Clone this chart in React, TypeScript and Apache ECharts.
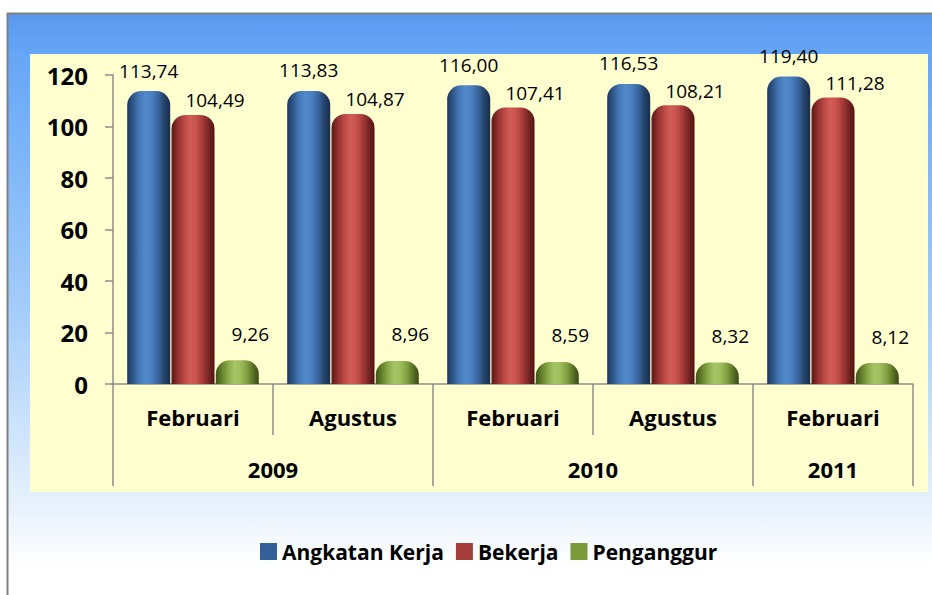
import React, { useEffect, useRef } from "react";
import * as echarts from "echarts";

const categories = ["Februari", "Agustus", "Februari", "Agustus", "Februari"];
const years = ["2009", "2010", "2011"];
const yearSpans = [2, 2, 1];
const seriesNames = ["Angkatan Kerja", "Bekerja", "Penganggur"];
const angkatanKerja = [113.74, 113.83, 116.0, 116.53, 119.4];
const bekerja = [104.49, 104.87, 107.41, 108.21, 111.28];
const penganggur = [9.26, 8.96, 8.59, 8.32, 8.12];
const yMin = 0;
const yMax = 120;
const yInterval = 20;

const FONT = '"Open Sans", "Noto Sans", sans-serif';
const GRAY = "#8c8c8c";

const yearBounds: number[] = [0];
yearSpans.forEach((s, i) => yearBounds.push(yearBounds[i] + s));
const yearCenters = yearSpans.map((s, i) => yearBounds[i] + s / 2);

const grad = (stops: string[]) =>
  new echarts.graphic.LinearGradient(
    0,
    0,
    1,
    0,
    stops.map((c, i) => ({ offset: i / (stops.length - 1), color: c }))
  );

const barColors = [
  grad(["#1c3658", "#30598e", "#4579b8", "#5289cc", "#4a7fbf", "#3a679f", "#26446c", "#172c48"]),
  grad(["#5c1716", "#8e302e", "#b84744", "#d25c58", "#c8524e", "#a83c39", "#7a2624", "#4e1312"]),
  grad(["#3f5218", "#66822c", "#8aa94a", "#a6c566", "#9ebd5c", "#84a244", "#5c7626", "#394a14"]),
];
const legendColors = ["#34609a", "#a63e3b", "#7b9b3b"];
const labelOffsets = [
  [0, 0],
  [22, 0],
  [13, 0],
];
const labelDistances = [11, 5, 17];

const fmt = (v: number) => v.toFixed(2).replace(".", ",");

export default function App() {
  const ref = useRef<HTMLDivElement>(null);
  useEffect(() => {
    if (!ref.current) return;
    const chart = echarts.init(ref.current, undefined, { renderer: "svg" });
    const data = [angkatanKerja, bekerja, penganggur];
    const option: any = {
      animation: false,
      textStyle: { fontFamily: FONT },
      graphic: [
        {
          type: "rect",
          z: -10,
          silent: true,
          shape: { x: 8, y: 14, width: 924, height: 581 },
          style: {
            fill: {
              type: "linear",
              x: 0,
              y: 0,
              x2: 0,
              y2: 1,
              colorStops: [
                { offset: 0, color: "#5a98ee" },
                { offset: 0.07, color: "#66a6f6" },
                { offset: 0.5, color: "#a2ccf9" },
                { offset: 0.83, color: "#e4f0fc" },
                { offset: 0.95, color: "#ffffff" },
                { offset: 1, color: "#ffffff" },
              ],
            },
          },
        },
        {
          type: "rect",
          z: -9,
          silent: true,
          shape: { x: 30, y: 54, width: 898, height: 438 },
          style: { fill: "#ffffd0" },
        },
        {
          type: "line",
          z: -8,
          silent: true,
          shape: { x1: 7, y1: 13.5, x2: 932, y2: 13.5 },
          style: { stroke: "#808080", lineWidth: 2 },
        },
        {
          type: "line",
          z: -8,
          silent: true,
          shape: { x1: 7.5, y1: 13, x2: 7.5, y2: 595 },
          style: { stroke: "#808080", lineWidth: 2 },
        },
      ],
      grid: { left: 113, right: 19, top: 75, bottom: 211 },
      legend: {
        left: 255,
        top: 536,
        icon: "rect",
        itemWidth: 17,
        itemHeight: 17,
        itemGap: 12,
        textStyle: { fontFamily: FONT, fontWeight: "bold", fontSize: 21, color: "#000" },
        data: seriesNames.map((n, i) => ({ name: n, itemStyle: { color: legendColors[i] } })),
      },
      xAxis: [
        {
          type: "category",
          data: categories,
          position: "bottom",
          axisLine: { show: true, lineStyle: { color: GRAY, width: 1.5 } },
          axisTick: { show: true, interval: 0, length: 51, lineStyle: { color: GRAY, width: 1.5 } },
          axisLabel: {
            interval: 0,
            margin: 22,
            fontFamily: FONT,
            fontWeight: "bold",
            fontSize: 22,
            color: "#000",
          },
          splitLine: { show: false },
        },
        {
          type: "value",
          min: 0,
          max: yearBounds[yearBounds.length - 1],
          position: "bottom",
          offset: 51,
          axisLine: { show: false },
          axisTick: {
            show: true,
            customValues: yearBounds,
            length: 51,
            lineStyle: { color: GRAY, width: 1.5 },
          },
          axisLabel: {
            customValues: yearCenters,
            margin: 23,
            fontFamily: FONT,
            fontWeight: "bold",
            fontSize: 22,
            color: "#000",
            formatter: (v: number) => {
              const idx = yearCenters.findIndex((c) => Math.abs(c - v) < 1e-6);
              return idx >= 0 ? years[idx] : "";
            },
          },
          splitLine: { show: false },
        },
      ],
      yAxis: {
        type: "value",
        min: yMin,
        max: yMax,
        interval: yInterval,
        axisLine: { show: true, lineStyle: { color: GRAY, width: 1.5 } },
        axisTick: { show: true, inside: false, length: 8, lineStyle: { color: GRAY, width: 1.5 } },
        axisLabel: {
          margin: 25,
          fontFamily: FONT,
          fontWeight: "bold",
          fontSize: 24,
          color: "#000",
        },
        splitLine: { show: false },
      },
      series: seriesNames.map((name, i) => ({
        name,
        type: "bar",
        xAxisIndex: 0,
        yAxisIndex: 0,
        barWidth: 43,
        barGap: "3%",
        data: data[i],
        itemStyle: { color: barColors[i], borderRadius: [14, 14, 0, 0] },
        label: {
          show: true,
          position: "top",
          distance: labelDistances[i],
          offset: labelOffsets[i],
          fontFamily: FONT,
          fontSize: 19,
          color: "#000",
          formatter: (p: any) => fmt(p.value),
        },
      })),
    };
    chart.setOption(option);
    return () => chart.dispose();
  }, []);
  return (
    <div
      ref={ref}
      style={{ position: "fixed", left: 0, top: 0, width: 932, height: 595, background: "#fff" }}
    />
  );
}
